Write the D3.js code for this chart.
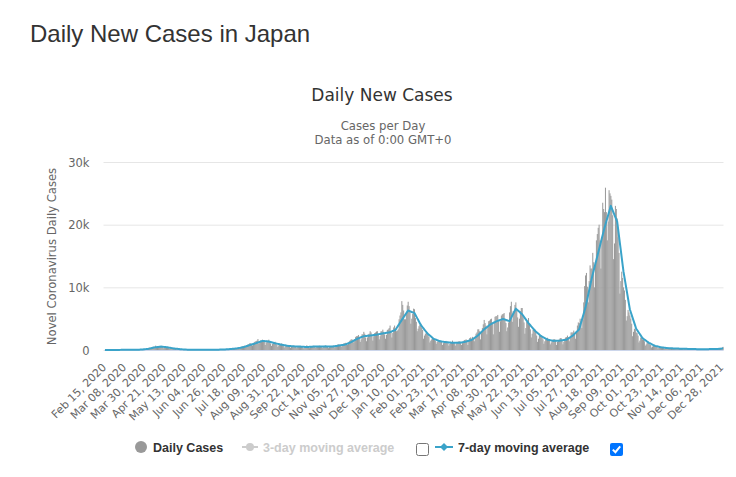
<html>
<head><meta charset="utf-8"></head>
<style>
  html, body { margin: 0; background: #fff; }
  svg { display: block; }
</style>
<body>
<svg id="chart" width="736" height="477"></svg>

<script src="https://cdnjs.cloudflare.com/ajax/libs/d3/7.8.5/d3.min.js"></script>
<script>
  // first day of the series, and the labels shown on the x axis
  const startDate = "Feb 15, 2020";
  const tickLabels = [
    "Feb 15, 2020", "Mar 08, 2020", "Mar 30, 2020", "Apr 21, 2020", "May 13, 2020",
    "Jun 04, 2020", "Jun 26, 2020", "Jul 18, 2020", "Aug 09, 2020", "Aug 31, 2020",
    "Sep 22, 2020", "Oct 14, 2020", "Nov 05, 2020", "Nov 27, 2020", "Dec 19, 2020",
    "Jan 10, 2021", "Feb 01, 2021", "Feb 23, 2021", "Mar 17, 2021", "Apr 08, 2021",
    "Apr 30, 2021", "May 22, 2021", "Jun 13, 2021", "Jul 05, 2021", "Jul 27, 2021",
    "Aug 18, 2021", "Sep 09, 2021", "Oct 01, 2021", "Oct 23, 2021", "Nov 14, 2021",
    "Dec 06, 2021", "Dec 28, 2021"
  ];
  const yTickValues = [0, 10000, 20000, 30000];
  const yTickLabels = ["0", "10k", "20k", "30k"];

  // daily new cases, one row per week (Sat..Fri)
  const dailyCases = [
    9, 7, 4, 6, 10, 9, 11,
    15, 13, 8, 12, 17, 16, 18,
    27, 23, 15, 22, 30, 29, 31,
    44, 38, 24, 36, 46, 45, 47,
    42, 36, 23, 34, 44, 43, 44,
    60, 55, 40, 60, 85, 90, 100,
    150, 130, 110, 160, 230, 250, 300,
    380, 340, 280, 400, 500, 510, 530,
    700, 540, 330, 480, 560, 600, 640,
    560, 470, 280, 380, 450, 430, 440,
    340, 280, 170, 230, 260, 240, 230,
    200, 170, 90, 110, 100, 110, 130,
    90, 70, 40, 50, 60, 55, 55,
    40, 30, 20, 25, 30, 35, 30,
    25, 20, 20, 30, 40, 35, 40,
    45, 40, 30, 35, 40, 45, 45,
    45, 35, 25, 40, 45, 45, 45,
    55, 45, 35, 45, 55, 60, 55,
    60, 60, 50, 90, 110, 120, 140,
    130, 120, 110, 140, 160, 180, 210,
    250, 220, 180, 240, 290, 300, 340,
    380, 360, 280, 420, 520, 560, 630,
    700, 620, 480, 720, 900, 950, 1090,
    1050, 920, 700, 1000, 1250, 1350, 1430,
    1500, 1750, 1000, 1300, 1500, 1450, 1650,
    1550, 1300, 800, 1200, 1500, 1450, 1650,
    1250, 1050, 650, 950, 1200, 1150, 1310,
    1000, 850, 500, 750, 900, 900, 1050,
    800, 650, 400, 580, 700, 700, 790,
    650, 550, 350, 520, 650, 640, 700,
    600, 520, 300, 500, 600, 620, 640,
    550, 450, 280, 300, 480, 550, 750,
    620, 500, 300, 480, 600, 620, 660,
    650, 520, 320, 480, 620, 650, 680,
    650, 550, 320, 520, 650, 680, 690,
    620, 500, 300, 460, 620, 620, 660,
    700, 600, 400, 650, 800, 850, 900,
    850, 700, 500, 800, 950, 1050, 1100,
    1150, 1000, 800, 1150, 1400, 1550, 1700,
    1700, 1500, 1200, 1700, 2100, 2200, 2200,
    2400, 2100, 1300, 1700, 2500, 2500, 2900,
    2600, 2000, 1400, 2000, 2500, 2600, 3000,
    2800, 2200, 1500, 2200, 2700, 2800, 2950,
    3000, 2400, 1700, 2200, 3000, 3000, 3250,
    2900, 2500, 1800, 2400, 3200, 3300, 3500,
    3900, 2900, 2000, 2700, 3600, 3900, 3400,
    3000, 3100, 3300, 4900, 5500, 6000, 7800,
    7200, 6300, 4900, 4900, 6000, 7100, 7700,
    7000, 6200, 4200, 5000, 5800, 6600, 6500,
    5100, 4500, 3000, 3400, 3800, 4000, 4200,
    3600, 3200, 1800, 2300, 2600, 2700, 2700,
    2400, 2100, 1200, 1500, 1700, 1800, 1900,
    1600, 1500, 1000, 1300, 1400, 1400, 1600,
    1400, 1300, 800, 1100, 1300, 1400, 1450,
    1300, 1100, 700, 1000, 1200, 1250, 1500,
    1250, 1100, 700, 1000, 1300, 1300, 1400,
    1400, 1200, 800, 1100, 1400, 1600, 1600,
    1700, 1500, 800, 1500, 1900, 2000, 1800,
    2100, 1800, 1400, 2100, 2600, 2800, 3300,
    3300, 3000, 1700, 2700, 3500, 4100, 4800,
    4300, 3900, 2500, 3800, 4600, 4700, 4900,
    5000, 4300, 2500, 4300, 5300, 5400, 5400,
    5600, 4600, 2900, 4600, 5500, 5700, 5750,
    5900, 5000, 4300, 3000, 3600, 4400, 6000,
    7000, 7700, 4500, 6200, 6000, 7200, 7600,
    6400, 5200, 3700, 5000, 6200, 6700, 6700,
    5400, 4400, 2600, 3500, 4500, 4600, 5100,
    4000, 3300, 2000, 2600, 3200, 3300, 3300,
    2900, 2300, 1300, 1800, 2300, 2400, 2400,
    2000, 1700, 1000, 1400, 1700, 1800, 1950,
    1700, 1500, 900, 1200, 1500, 1600, 1750,
    1700, 1500, 800, 1300, 1600, 1700, 1900,
    1900, 1600, 900, 1300, 1800, 2000, 2050,
    2300, 2000, 1400, 2000, 2800, 2800, 2800,
    3100, 2700, 1800, 2900, 3900, 4400, 4300,
    5000, 4600, 3500, 4800, 7600, 10200, 11900,
    12300, 10100, 7600, 11000, 13500, 13000, 13000,
    15500, 14000, 10000, 13500, 17500, 18500, 19500,
    20000, 17500, 13000, 18000, 23500, 22500, 22000,
    25900, 22000, 17500, 20500, 25500, 25000, 24600,
    24000, 21500, 14500, 17000, 23000, 22500, 21000,
    18000, 15500, 9000, 11000, 12500, 11500, 10000,
    9500, 8000, 4700, 5400, 6400, 6000, 5500,
    5000, 4200, 2200, 2900, 3400, 3300, 2800,
    2700, 2300, 1200, 1500, 2000, 1900, 1700,
    1600, 1400, 700, 900, 1200, 1150, 1100,
    900, 800, 400, 550, 650, 650, 600,
    550, 500, 250, 350, 450, 430, 410,
    350, 330, 180, 260, 330, 330, 320,
    300, 260, 150, 220, 270, 270, 280,
    240, 220, 130, 180, 230, 230, 240,
    200, 190, 110, 160, 200, 200, 200,
    170, 160, 90, 130, 160, 170, 170,
    150, 140, 80, 110, 140, 140, 150,
    150, 130, 80, 110, 140, 150, 150,
    160, 150, 90, 130, 170, 170, 180,
    200, 180, 110, 150, 200, 210, 210,
    320, 260, 200, 380, 500
  ];

  // 7-day moving average line
  const avg7 = [
    5, 6, 6, 7, 7, 8, 8,
    9, 10, 11, 11, 12, 13, 14,
    16, 17, 19, 20, 22, 23, 25,
    27, 29, 31, 34, 36, 38, 40,
    40, 39, 39, 39, 39, 38, 38,
    43, 47, 52, 56, 61, 65, 70,
    87, 104, 121, 139, 156, 173, 190,
    223, 256, 289, 321, 354, 387, 420,
    439, 457, 476, 494, 513, 531, 550,
    533, 516, 499, 481, 464, 447, 430,
    404, 379, 353, 327, 301, 276, 250,
    233, 216, 199, 181, 164, 147, 130,
    120, 110, 100, 90, 80, 70, 60,
    56, 51, 47, 43, 39, 34, 30,
    30, 30, 30, 30, 30, 30, 30,
    31, 33, 34, 36, 37, 39, 40,
    40, 40, 40, 40, 40, 40, 40,
    41, 43, 44, 46, 47, 49, 50,
    56, 61, 67, 73, 79, 84, 90,
    99, 107, 116, 124, 133, 141, 150,
    166, 181, 197, 213, 229, 244, 260,
    287, 314, 341, 369, 396, 423, 450,
    497, 544, 591, 639, 686, 733, 780,
    826, 871, 917, 963, 1009, 1054, 1100,
    1150, 1200, 1250, 1300, 1350, 1400, 1450,
    1436, 1421, 1407, 1393, 1379, 1364, 1350,
    1311, 1273, 1234, 1196, 1157, 1119, 1080,
    1047, 1014, 981, 949, 916, 883, 850,
    823, 796, 769, 741, 714, 687, 660,
    649, 637, 626, 614, 603, 591, 580,
    574, 569, 563, 557, 551, 546, 540,
    531, 523, 514, 506, 497, 489, 480,
    489, 497, 506, 514, 523, 531, 540,
    543, 546, 549, 551, 554, 557, 560,
    563, 566, 569, 571, 574, 577, 580,
    574, 569, 563, 557, 551, 546, 540,
    563, 586, 609, 631, 654, 677, 700,
    721, 743, 764, 786, 807, 829, 850,
    907, 964, 1021, 1079, 1136, 1193, 1250,
    1329, 1407, 1486, 1564, 1643, 1721, 1800,
    1857, 1914, 1971, 2029, 2086, 2143, 2200,
    2214, 2229, 2243, 2257, 2271, 2286, 2300,
    2321, 2343, 2364, 2386, 2407, 2429, 2450,
    2479, 2507, 2536, 2564, 2593, 2621, 2650,
    2671, 2693, 2714, 2736, 2757, 2779, 2800,
    2857, 2914, 2971, 3029, 3086, 3143, 3200,
    3429, 3657, 3886, 4114, 4343, 4571, 4800,
    5014, 5229, 5443, 5657, 5871, 6086, 6300,
    6243, 6186, 6129, 6071, 6014, 5957, 5900,
    5629, 5357, 5086, 4814, 4543, 4271, 4000,
    3814, 3629, 3443, 3257, 3071, 2886, 2700,
    2571, 2443, 2314, 2186, 2057, 1929, 1800,
    1743, 1686, 1629, 1571, 1514, 1457, 1400,
    1379, 1357, 1336, 1314, 1293, 1271, 1250,
    1236, 1221, 1207, 1193, 1179, 1164, 1150,
    1150, 1150, 1150, 1150, 1150, 1150, 1150,
    1171, 1193, 1214, 1236, 1257, 1279, 1300,
    1343, 1386, 1429, 1471, 1514, 1557, 1600,
    1700, 1800, 1900, 2000, 2100, 2200, 2300,
    2443, 2586, 2729, 2871, 3014, 3157, 3300,
    3414, 3529, 3643, 3757, 3871, 3986, 4100,
    4171, 4243, 4314, 4386, 4457, 4529, 4600,
    4650, 4700, 4750, 4800, 4850, 4900, 4950,
    4900, 4850, 4800, 4750, 4700, 4650, 4600,
    4886, 5171, 5457, 5743, 6029, 6314, 6600,
    6471, 6343, 6214, 6086, 5957, 5829, 5700,
    5500, 5300, 5100, 4900, 4700, 4500, 4300,
    4129, 3957, 3786, 3614, 3443, 3271, 3100,
    2971, 2843, 2714, 2586, 2457, 2329, 2200,
    2121, 2043, 1964, 1886, 1807, 1729, 1650,
    1621, 1593, 1564, 1536, 1507, 1479, 1450,
    1457, 1464, 1471, 1479, 1486, 1493, 1500,
    1521, 1543, 1564, 1586, 1607, 1629, 1650,
    1743, 1836, 1929, 2021, 2114, 2207, 2300,
    2443, 2586, 2729, 2871, 3014, 3157, 3300,
    3800, 4300, 4800, 5300, 5800, 6300, 6800,
    7471, 8143, 8814, 9486, 10157, 10829, 11500,
    12071, 12643, 13214, 13786, 14357, 14929, 15500,
    16071, 16643, 17214, 17786, 18357, 18929, 19500,
    20000, 20500, 21000, 21500, 22000, 22500, 23000,
    22643, 22286, 21929, 21571, 21214, 20857, 20500,
    19357, 18214, 17071, 15929, 14786, 13643, 12500,
    11643, 10786, 9929, 9071, 8214, 7357, 6500,
    6057, 5614, 5171, 4729, 4286, 3843, 3400,
    3186, 2971, 2757, 2543, 2329, 2114, 1900,
    1793, 1686, 1579, 1471, 1364, 1257, 1150,
    1079, 1007, 936, 864, 793, 721, 650,
    617, 584, 551, 519, 486, 453, 420,
    403, 386, 369, 351, 334, 317, 300,
    293, 286, 279, 271, 264, 257, 250,
    244, 239, 233, 227, 221, 216, 210,
    206, 201, 197, 193, 189, 184, 180,
    176, 171, 167, 163, 159, 154, 150,
    147, 144, 141, 139, 136, 133, 130,
    130, 130, 130, 130, 130, 130, 130,
    133, 136, 139, 141, 144, 147, 150,
    154, 159, 163, 167, 171, 176, 180,
    197, 209, 221, 254, 297
  ];

  const svg = d3.select('#chart');
  const hcFont = '"DejaVu Sans", "Lucida Grande", Arial, sans-serif';
  const lineColor = '#3aa3c9';

  const plot = {left: 104.5, right: 723.5, top: 162, bottom: 350};

  // category axis: one band per day
  let x = d3.scaleBand()
      .domain(d3.range(dailyCases.length))
      .range([plot.left, plot.right])
      .padding(0);
  let xc = i => x(i) + x.bandwidth() / 2;

  let y = d3.scaleLinear()
      .domain([0, 30000])
      .range([plot.bottom, plot.top]);

  // page heading
  svg.append('text')
      .attr('x', 30).attr('y', 42)
      .attr('font-family', '"Liberation Sans", Arial, sans-serif')
      .attr('font-size', 24)
      .attr('fill', '#333')
      .text('Daily New Cases in Japan');

  // chart title + subtitle
  svg.append('text')
      .attr('x', 382).attr('y', 101)
      .attr('text-anchor', 'middle')
      .attr('font-family', hcFont).attr('font-size', 17)
      .attr('fill', '#333')
      .text('Daily New Cases');
  svg.append('text')
      .attr('x', 383).attr('y', 129.5)
      .attr('text-anchor', 'middle')
      .attr('font-family', hcFont).attr('font-size', 11.7)
      .attr('fill', '#666')
      .text('Cases per Day');
  svg.append('text')
      .attr('x', 383).attr('y', 143.5)
      .attr('text-anchor', 'middle')
      .attr('font-family', hcFont).attr('font-size', 11.7)
      .attr('fill', '#666')
      .text('Data as of 0:00 GMT+0');

  // y gridlines and labels
  let yAxis = d3.axisLeft(y)
      .tickValues(yTickValues)
      .tickSize(-(plot.right - plot.left + 1))
      .tickFormat((d, i) => yTickLabels[i]);
  let gy = svg.append('g')
      .attr('transform', `translate(${plot.left - 1},0)`)
      .call(yAxis);
  gy.select('.domain').remove();
  gy.selectAll('.tick line').attr('stroke', '#e6e6e6');
  gy.selectAll('.tick text')
      .attr('x', -14).attr('dy', '0.35em')
      .attr('font-family', hcFont).attr('font-size', 11.5)
      .attr('fill', '#666');

  svg.append('text')
      .attr('transform', 'translate(56,256.5) rotate(-90)')
      .attr('text-anchor', 'middle')
      .attr('font-family', hcFont).attr('font-size', 11.6)
      .attr('fill', '#666')
      .text('Novel Coronavirus Daily Cases');

  // daily bars
  svg.append('g')
    .selectAll('rect')
    .data(dailyCases)
    .join('rect')
      .attr('x', (d, i) => x(i))
      .attr('width', x.bandwidth() + 0.1)
      .attr('y', d => y(d))
      .attr('height', d => plot.bottom - y(d))
      .attr('fill', '#999');

  // x axis line
  svg.append('line')
      .attr('x1', plot.left).attr('x2', plot.right)
      .attr('y1', plot.bottom + 0.5).attr('y2', plot.bottom + 0.5)
      .attr('stroke', '#ccd6eb');

  // 7-day moving average
  let line = d3.line()
      .x((d, i) => xc(i))
      .y(d => y(d));
  svg.append('path')
      .datum(avg7)
      .attr('d', line)
      .attr('fill', 'none')
      .attr('stroke', lineColor)
      .attr('stroke-width', 2)
      .attr('stroke-linejoin', 'round');

  // rotated date labels, placed at the day they name
  let parse = d3.utcParse('%b %d, %Y');
  let day0 = parse(startDate);
  svg.append('g')
    .selectAll('text')
    .data(tickLabels)
    .join('text')
      .attr('transform', d => {
        let i = d3.utcDay.count(day0, parse(d));
        return `translate(${xc(i) + 2},${plot.bottom + 18}) rotate(-45)`;
      })
      .attr('text-anchor', 'end')
      .attr('font-family', hcFont).attr('font-size', 11)
      .attr('fill', '#666')
      .text(d => d);

  // legend
  let legend = svg.append('g')
      .attr('font-family', '"Liberation Sans", Arial, sans-serif')
      .attr('font-size', 12.5)
      .attr('font-weight', 'bold');

  legend.append('circle').attr('cx', 141).attr('cy', 447).attr('r', 6).attr('fill', '#999');
  legend.append('text').attr('x', 153).attr('y', 451.5).attr('fill', '#333').text('Daily Cases');

  legend.append('line').attr('x1', 242).attr('x2', 258).attr('y1', 447).attr('y2', 447)
      .attr('stroke', '#ccc').attr('stroke-width', 2);
  legend.append('circle').attr('cx', 250).attr('cy', 447).attr('r', 4).attr('fill', '#ccc');
  legend.append('text').attr('x', 263).attr('y', 451.5).attr('fill', '#ccc').text('3-day moving average');

  legend.append('rect').attr('x', 416.5).attr('y', 443.5).attr('width', 12).attr('height', 12)
      .attr('rx', 2).attr('fill', '#fff').attr('stroke', '#767676');

  legend.append('line').attr('x1', 435).attr('x2', 453).attr('y1', 447).attr('y2', 447)
      .attr('stroke', lineColor).attr('stroke-width', 2);
  legend.append('path').attr('d', 'M444,443L448,447L444,451L440,447Z').attr('fill', lineColor);
  legend.append('text').attr('x', 458).attr('y', 451.5).attr('fill', '#333').text('7-day moving average');

  legend.append('rect').attr('x', 610).attr('y', 443).attr('width', 13).attr('height', 13)
      .attr('rx', 2).attr('fill', '#0075ff');
  legend.append('path').attr('d', 'M612.8,449.6L615.4,452.2L620.2,446.4')
      .attr('fill', 'none').attr('stroke', '#fff').attr('stroke-width', 2);
</script>
</body>
</html>
